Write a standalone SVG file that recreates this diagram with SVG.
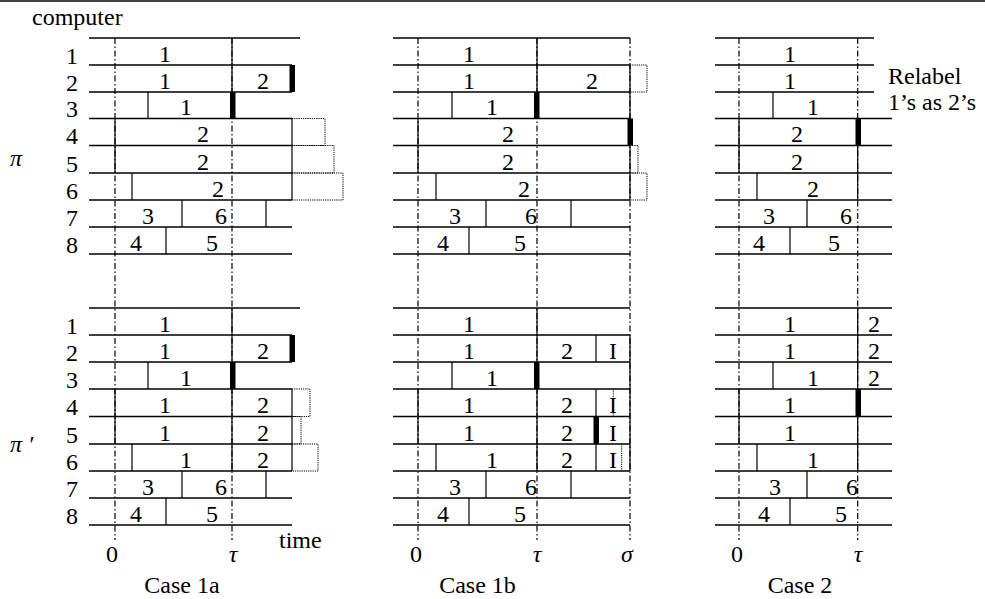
<svg xmlns="http://www.w3.org/2000/svg" width="985" height="599" viewBox="0 0 985 599">
<style>
.h{stroke:#000;stroke-width:1.5}
.v{stroke:#000;stroke-width:1.2}
.dd{stroke:#000;stroke-width:1.2;stroke-dasharray:6 2.5 1.5 2.5}
.dot{fill:none;stroke:#000;stroke-width:1;stroke-dasharray:1.2 1}
.bar{fill:#000}
text{font-family:"Liberation Serif","Times New Roman",serif;font-size:24px;fill:#000}
.n{text-anchor:middle}
.it{font-style:italic}
</style>
<rect width="985" height="599" fill="#fff"/>
<line class="h" x1="0" y1="1" x2="985" y2="1"/>
<g id="axes">
<line class="dd" x1="115" y1="38" x2="115" y2="540"/>
<line class="dd" x1="232" y1="38" x2="232" y2="540"/>
<line class="dd" x1="418" y1="38" x2="418" y2="540"/>
<line class="dd" x1="537" y1="38" x2="537" y2="540"/>
<line class="dd" x1="630" y1="38" x2="630" y2="540"/>
<line class="dd" x1="739" y1="38" x2="739" y2="540"/>
<line class="dd" x1="857.7" y1="38" x2="857.7" y2="540"/>
</g>
<g id="labels">
<text x="32" y="25">computer</text>
<text class="it" x="10" y="166">π</text>
<text class="it" x="10" y="452">π ′</text>
<g class="n">
<text x="72" y="63.5">1</text><text x="72" y="90.5">2</text><text x="72" y="117">3</text><text x="72" y="144">4</text>
<text x="72" y="171.5">5</text><text x="72" y="198.5">6</text><text x="72" y="225.5">7</text><text x="72" y="252.5">8</text>
<text x="72" y="333.5">1</text><text x="72" y="360.5">2</text><text x="72" y="387.5">3</text><text x="72" y="415">4</text>
<text x="72" y="442.5">5</text><text x="72" y="469.5">6</text><text x="72" y="496.5">7</text><text x="72" y="523.5">8</text>
<text x="112" y="562">0</text><text class="it" x="233" y="562">τ</text>
<text x="416" y="562">0</text><text class="it" x="537" y="562">τ</text><text class="it" x="627" y="562">σ</text>
<text x="737" y="562">0</text><text class="it" x="858" y="562">τ</text>
<text x="182" y="593">Case 1a</text><text x="477.5" y="593">Case 1b</text><text x="800" y="593">Case 2</text>
</g>
<text x="279" y="548">time</text>
<text x="888" y="84">Relabel</text>
<text x="888" y="110">1’s as 2’s</text>
</g>
<g id="case1a-pi">
<line class="h" x1="89" y1="38" x2="300" y2="38"/>
<path class="h" fill="none" d="M89,65H292M89,92H292M89,118.5H292M89,145.5H292M89,173H292M89,200H292M89,227H292M89,254H292"/>
<path class="v" fill="none" d="M232,38V118.5M148,92V118.5M115,118.5V173M292,118.5V200M132,173V200M182,200V227M266,200V227M166,227V254"/>
<rect class="bar" x="289.5" y="65" width="5.5" height="27"/>
<rect class="bar" x="230" y="92" width="5.5" height="26.5"/>
<path class="dot" d="M292,118.5H325V145.5H292M292,145.5H334V173H292M292,173H343V200H292"/>
<g class="n">
<text x="165" y="61.5">1</text><text x="165" y="88.5">1</text><text x="263" y="88.5">2</text><text x="186" y="115">1</text>
<text x="203" y="142">2</text><text x="203" y="169.5">2</text><text x="218" y="196.5">2</text>
<text x="148" y="223.5">3</text><text x="221" y="223.5">6</text><text x="136" y="250.5">4</text><text x="212" y="250.5">5</text>
</g>
</g>
<g id="case1a-piprime">
<line class="h" x1="89" y1="308" x2="300" y2="308"/>
<path class="h" fill="none" d="M89,335H292M89,362H292M89,389H292M89,416.5H292M89,444H292M89,471H292M89,498H292M89,525H292"/>
<path class="v" fill="none" d="M232,308V471M148,362V389M115,389V444M292,389V471M132,444V471M182,471V498M266,471V498M166,498V525"/>
<rect class="bar" x="289.5" y="335" width="5.5" height="27"/>
<rect class="bar" x="230" y="362" width="5.5" height="27"/>
<path class="dot" d="M292,389H310V416.5H292M292,416.5H301V444H292M292,444H318V471H292"/>
<g class="n">
<text x="165" y="331.5">1</text><text x="165" y="358.5">1</text><text x="263" y="358.5">2</text><text x="186" y="385.5">1</text>
<text x="165" y="413">1</text><text x="263" y="413">2</text><text x="165" y="440.5">1</text><text x="263" y="440.5">2</text>
<text x="186" y="467.5">1</text><text x="263" y="467.5">2</text>
<text x="148" y="494.5">3</text><text x="221" y="494.5">6</text><text x="136" y="521.5">4</text><text x="212" y="521.5">5</text>
</g>
</g>
<g id="case1b-pi">
<path class="h" fill="none" d="M393,38H630M393,65H630M393,92H630M393,118.5H630M393,145.5H630M393,173H630M393,200H630M393,227H630M393,254H630"/>
<path class="v" fill="none" d="M537,38V118.5M630,65V200M452,92V118.5M418,118.5V173M436,173V200M486,200V227M571,200V227M469,227V254"/>
<rect class="bar" x="534" y="92" width="5.5" height="26.5"/>
<rect class="bar" x="627.5" y="118.5" width="5.5" height="27"/>
<path class="dot" d="M630,65H647V92H630M630,145.5H638V173H630M630,173H647V200H630"/>
<g class="n">
<text x="469" y="61.5">1</text><text x="469" y="88.5">1</text><text x="592" y="88.5">2</text><text x="492" y="115">1</text>
<text x="508" y="142">2</text><text x="508" y="169.5">2</text><text x="524" y="196.5">2</text>
<text x="455" y="223.5">3</text><text x="531" y="223.5">6</text><text x="443" y="250.5">4</text><text x="520" y="250.5">5</text>
</g>
</g>
<g id="case1b-piprime">
<path class="h" fill="none" d="M393,308H630M393,335H630M393,362H630M393,389H630M393,416.5H630M393,444H630M393,471H630M393,498H630M393,525H630"/>
<path class="v" fill="none" d="M537,308V471M630,335V471M596,335V362M452,362V389M418,389V444M596,389V416.5M436,444V471M596,444V471M486,471V498M571,471V498M469,498V525"/>
<rect class="bar" x="534" y="362" width="5.5" height="27"/>
<rect class="bar" x="593.5" y="416.5" width="5.5" height="27.5"/>
<path class="dot" d="M613.3,389V416.5M621.7,444V471"/>
<g class="n">
<text x="469" y="331.5">1</text><text x="469" y="358.5">1</text><text x="567" y="358.5">2</text><text x="613" y="358.5">I</text>
<text x="492" y="385.5">1</text>
<text x="469" y="413">1</text><text x="567" y="413">2</text><text x="613" y="413">I</text>
<text x="469" y="440.5">1</text><text x="567" y="440.5">2</text><text x="613" y="440.5">I</text>
<text x="492" y="467.5">1</text><text x="567" y="467.5">2</text><text x="613" y="467.5">I</text>
<text x="455" y="494.5">3</text><text x="531" y="494.5">6</text><text x="443" y="521.5">4</text><text x="520" y="521.5">5</text>
</g>
</g>
<g id="case2-pi">
<path class="h" fill="none" d="M715,38H874M715,65H874M715,92H874M715,118.5H892M715,145.5H892M715,173H892M715,200H892M715,227H892M715,254H892"/>
<path class="v" fill="none" d="M857.7,145.5V200M773,92V118.5M739,118.5V173M757,173V200M807,200V227M790,227V254"/>
<rect class="bar" x="855.5" y="118.5" width="5.5" height="27"/>
<g class="n">
<text x="790" y="61.5">1</text><text x="790" y="88.5">1</text><text x="813" y="115">1</text>
<text x="797" y="142">2</text><text x="797" y="169.5">2</text><text x="813" y="196.5">2</text>
<text x="769" y="223.5">3</text><text x="846" y="223.5">6</text><text x="759" y="250.5">4</text><text x="834" y="250.5">5</text>
</g>
</g>
<g id="case2-piprime">
<path class="h" fill="none" d="M715,308H892M715,335H892M715,362H892M715,389H892M715,416.5H892M715,444H892M715,471H892M715,498H892M715,525H892"/>
<path class="v" fill="none" d="M857.7,308V471M773,362V389M739,389V444M757,444V471M807,471V498M790,498V525"/>
<rect class="bar" x="855.5" y="389" width="5.5" height="27.5"/>
<g class="n">
<text x="790" y="331.5">1</text><text x="874" y="331.5">2</text><text x="790" y="358.5">1</text><text x="874" y="358.5">2</text>
<text x="813" y="385.5">1</text><text x="874" y="385.5">2</text>
<text x="790" y="413">1</text><text x="790" y="440.5">1</text><text x="813" y="467.5">1</text>
<text x="775" y="494.5">3</text><text x="852" y="494.5">6</text><text x="764" y="521.5">4</text><text x="841" y="521.5">5</text>
</g>
</g>
</svg>
